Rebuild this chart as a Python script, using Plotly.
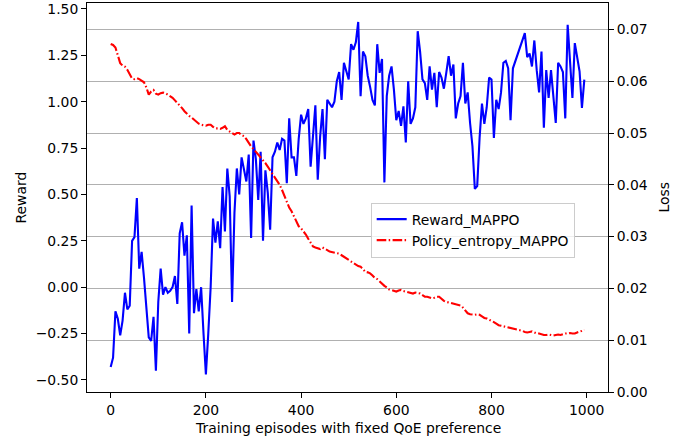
import plotly.graph_objects as go

episodes = list(range(0, 1000, 5))

reward_mappo = [
    -0.43, -0.38, -0.13, -0.17, -0.26, -0.18, -0.03, -0.12, -0.10, 0.25,
    0.27, 0.48, 0.10, 0.19, 0.05, -0.14, -0.27, -0.29, -0.16, -0.45,
    -0.08, 0.10, -0.04, 0.00, -0.03, -0.02, 0.00, 0.06, -0.09, 0.29,
    0.35, 0.17, 0.28, -0.25, 0.44, -0.14, -0.01, -0.13, 0.00, -0.25,
    -0.47, -0.25, 0.00, 0.37, 0.24, 0.355, 0.21, 0.54, 0.30, 0.64,
    0.49, -0.08, 0.40, 0.64, 0.50, 0.70, 0.63, 0.57, 0.715, 0.265,
    0.79, 0.69, 0.47, 0.73, 0.25, 0.63, 0.51, 0.31, 0.70, 0.73,
    0.78, 0.74, 0.80, 0.79, 0.56, 0.91, 0.70, 0.70, 0.60, 0.80,
    0.93, 0.88, 0.91, 0.96, 0.65, 0.81, 0.98, 0.58, 0.81, 0.96,
    0.69, 1.01, 0.99, 0.97, 1.00, 1.11, 1.16, 1.01, 1.21, 1.16,
    1.12, 1.31, 1.28, 1.32, 1.43, 1.03, 1.27, 1.245, 1.14, 1.08,
    1.01, 0.98, 1.31, 1.155, 1.23, 0.565, 1.03, 1.14, 1.19, 1.065,
    0.90, 0.95, 0.87, 0.975, 0.78, 1.11, 0.88, 0.91, 0.97, 1.38,
    1.27, 1.12, 1.10, 1.01, 1.19, 1.065, 1.155, 0.97, 1.16, 1.13,
    1.07, 1.155, 1.245, 1.14, 1.20, 0.91, 0.99, 1.03, 1.21, 0.99,
    1.05, 0.885, 0.76, 0.53, 0.545, 0.805, 0.99, 0.88, 0.97, 1.13,
    1.12, 0.805, 1.01, 0.96, 1.05, 1.21, 1.22, 1.18, 0.90, 1.18,
    1.22, 1.26, 1.29, 1.33, 1.37, 1.24, 1.26, 1.19, 1.33, 1.17,
    1.05, 1.27, 0.86, 1.17, 1.02, 1.17, 1.01, 0.885, 1.21, 1.19,
    1.16, 0.91, 1.415, 1.20, 1.02, 1.316, 1.236, 1.164, 0.966, 1.119,
]

policy_entropy_mappo = [
    0.0672, 0.0670, 0.0665, 0.0650, 0.0635, 0.0630, 0.0628, 0.0622, 0.0612, 0.0605,
    0.0604, 0.0606, 0.0604, 0.0601, 0.0598, 0.0588, 0.0574, 0.0580, 0.0583, 0.0576,
    0.0574, 0.0577, 0.0578, 0.0577, 0.0574, 0.0571, 0.0568, 0.0563, 0.0558, 0.0555,
    0.0548, 0.0542, 0.0537, 0.0533, 0.0530, 0.0526, 0.0522, 0.0518, 0.0516, 0.0515,
    0.0514, 0.0516, 0.0516, 0.0512, 0.0509, 0.0509, 0.0508, 0.0510, 0.0513, 0.0506,
    0.0503, 0.0500, 0.0497, 0.0500, 0.0500, 0.0496, 0.0494, 0.0488, 0.0480, 0.0474,
    0.0469, 0.0464, 0.0458, 0.0452, 0.0447, 0.0442, 0.0435, 0.0428, 0.0420, 0.0412,
    0.0406, 0.0400, 0.0390, 0.0378, 0.0366, 0.0356, 0.0349, 0.0340, 0.0330, 0.0320,
    0.0316, 0.0311, 0.0304, 0.0296, 0.0288, 0.0281, 0.0279, 0.0278, 0.0276, 0.0279,
    0.0277, 0.0274, 0.0271, 0.0270, 0.0269, 0.0268, 0.0267, 0.0264, 0.0261, 0.0258,
    0.0255, 0.0251, 0.0248, 0.0245, 0.0243, 0.0242, 0.0236, 0.0232, 0.0231, 0.0229,
    0.0225, 0.0220, 0.0218, 0.0213, 0.0210, 0.0205, 0.0202, 0.0198, 0.0197, 0.0195,
    0.0194, 0.0196, 0.0197, 0.0195, 0.0194, 0.0193, 0.0191, 0.0190, 0.0192, 0.0191,
    0.0190, 0.0187, 0.0184, 0.0184, 0.0182, 0.0181, 0.0182, 0.0184, 0.0184, 0.0180,
    0.0176, 0.0174, 0.0173, 0.0171, 0.0171, 0.0170, 0.0168, 0.0167, 0.0163, 0.0158,
    0.0152, 0.0150, 0.0149, 0.0149, 0.0150, 0.0149, 0.0146, 0.0143, 0.0142, 0.0140,
    0.0137, 0.0135, 0.0132, 0.0129, 0.0128, 0.0127, 0.0126, 0.0125, 0.0124, 0.0123,
    0.0122, 0.0121, 0.0120, 0.0118, 0.0116, 0.0115, 0.0116, 0.0117, 0.0115, 0.0113,
    0.0113, 0.0111, 0.0110, 0.0110, 0.0111, 0.0110, 0.0109, 0.0110, 0.0111, 0.0110,
    0.0112, 0.0113, 0.0113, 0.0114, 0.0113, 0.0113, 0.0115, 0.0116, 0.0118, 0.0120,
]

x_ticks = [0, 200, 400, 600, 800, 1000]
reward_ticks = [-0.5, -0.25, 0.0, 0.25, 0.5, 0.75, 1.0, 1.25, 1.5]
reward_tick_text = ["\u22120.50", "\u22120.25", "0.00", "0.25", "0.50", "0.75", "1.00", "1.25", "1.50"]
loss_ticks = [0.0, 0.01, 0.02, 0.03, 0.04, 0.05, 0.06, 0.07]
loss_tick_text = ["0.00", "0.01", "0.02", "0.03", "0.04", "0.05", "0.06", "0.07"]

FONT = "DejaVu Sans"
FS = 13.9

fig = go.Figure()
fig.add_trace(go.Scatter(
    x=episodes, y=reward_mappo, mode="lines", name="Reward_MAPPO",
    line=dict(color="#0000ff", width=2.1), yaxis="y", legendgroup="a",
))
fig.add_trace(go.Scatter(
    x=episodes, y=policy_entropy_mappo, mode="lines", name="Policy_entropy_MAPPO",
    line=dict(color="#ff0000", width=2.1, dash="9.6px,2.4px,1.5px,2.4px"), yaxis="y2", legendgroup="b",
))

axis_common = dict(
    showline=True, linecolor="black", linewidth=1.1,
    ticks="outside", ticklen=4.9, tickwidth=1.1, tickcolor="black",
    tickfont=dict(family=FONT, size=FS, color="black"),
    zeroline=False,
)

fig.update_layout(
    width=697, height=440,
    margin=dict(l=87, r=89, t=3, b=48, autoexpand=False),
    paper_bgcolor="white", plot_bgcolor="white",
    font=dict(family=FONT, size=FS, color="black"),
    showlegend=True,
    legend=dict(
        x=0.5445, y=0.487, xanchor="left", yanchor="top",
        bgcolor="rgba(255,255,255,0.8)", bordercolor="#cccccc", borderwidth=1,
        font=dict(family=FONT, size=FS, color="black"),
        traceorder="grouped", tracegroupgap=0,
    ),
    xaxis=dict(
        range=[-49.75, 1044.75], tickvals=x_ticks, ticktext=[str(t) for t in x_ticks],
        showgrid=False, mirror=True, **axis_common,
    ),
    yaxis=dict(
        range=[-0.565, 1.532], tickvals=reward_ticks, ticktext=reward_tick_text,
        showgrid=False, **axis_common,
    ),
    yaxis2=dict(
        range=[0, 0.0751], tickvals=loss_ticks, ticktext=loss_tick_text,
        overlaying="y", side="right",
        showgrid=True, gridcolor="#b0b0b0", gridwidth=1.1,
        **axis_common,
    ),
    annotations=[
        dict(text="Training episodes with fixed QoE preference", xref="paper", yref="paper",
             x=0.5, y=0, yshift=-26, xanchor="center", yanchor="top", showarrow=False,
             font=dict(family=FONT, size=FS, color="black")),
        dict(text="Reward", xref="paper", yref="paper", x=0, xshift=-67, y=0.5,
             xanchor="center", yanchor="middle", textangle=-90, showarrow=False,
             font=dict(family=FONT, size=FS, color="black")),
        dict(text="Loss", xref="paper", yref="paper", x=1, xshift=55, y=0.5,
             xanchor="center", yanchor="middle", textangle=-90, showarrow=False,
             font=dict(family=FONT, size=FS, color="black")),
    ],
)

fig.write_html(
    "out.html",
    config={"displayModeBar": False},
    post_script="document.body.style.margin='0';document.body.style.padding='0';document.body.style.overflow='hidden';",
)
